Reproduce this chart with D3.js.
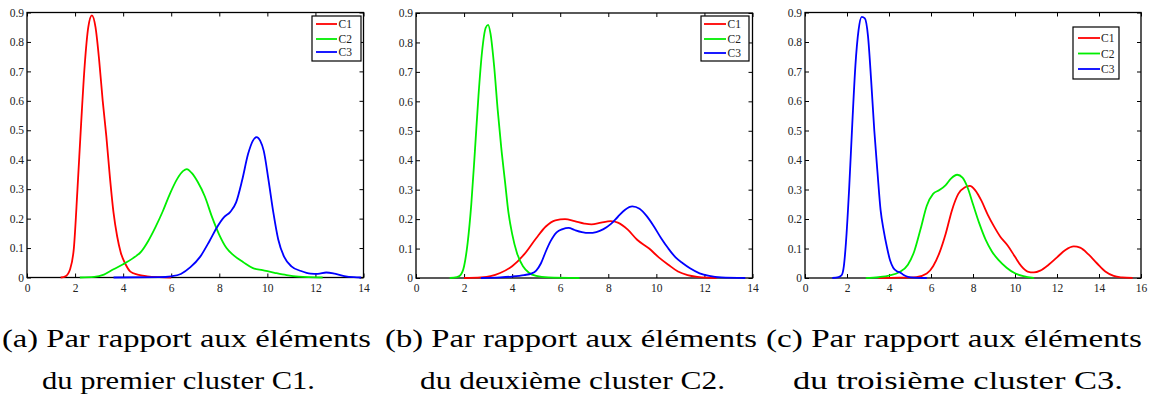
<!DOCTYPE html>
<html>
<head>
<meta charset="utf-8">
<script src="https://cdn.jsdelivr.net/npm/d3@7"></script>
<style>
  html, body { margin: 0; padding: 0; background: #fff; }
  svg { display: block; }
</style>
</head>
<body>
<script>
// ---------------- DATA ----------------
const seriesNames = ["C1", "C2", "C3"];
const yTicks = [0, 0.1, 0.2, 0.3, 0.4, 0.5, 0.6, 0.7, 0.8, 0.9];
const xTicksAB = [0, 2, 4, 6, 8, 10, 12, 14];
const xTicksC = [0, 2, 4, 6, 8, 10, 12, 14, 16];

// Panel (a): elements of cluster C1
const aC1 = [[1.4,0],[1.6,0.004],[1.8,0.03],[1.95,0.1],[2.1,0.3],[2.25,0.52],[2.4,0.72],[2.55,0.85],[2.7,0.89],[2.85,0.85],[3.0,0.74],[3.15,0.6],[3.3,0.48],[3.45,0.34],[3.6,0.22],[3.75,0.14],[3.9,0.085],[4.1,0.045],[4.3,0.02],[4.6,0.01],[5.0,0.004],[5.5,0.001],[6.0,0]];
const aC2 = [[2.2,0],[2.8,0.002],[3.2,0.01],[3.6,0.028],[4.0,0.045],[4.4,0.065],[4.75,0.088],[5.05,0.125],[5.35,0.172],[5.65,0.225],[5.95,0.285],[6.25,0.335],[6.5,0.362],[6.65,0.368],[6.85,0.355],[7.1,0.325],[7.4,0.275],[7.7,0.205],[8.0,0.145],[8.3,0.1],[8.6,0.075],[9.0,0.052],[9.4,0.032],[9.8,0.025],[10.3,0.016],[10.8,0.008],[11.3,0.003],[12.3,0]];
const aC3 = [[3.6,0],[5.5,0.001],[6.0,0.004],[6.4,0.012],[6.8,0.035],[7.2,0.07],[7.6,0.125],[7.9,0.17],[8.2,0.205],[8.45,0.222],[8.7,0.255],[8.95,0.33],[9.2,0.42],[9.4,0.465],[9.55,0.477],[9.7,0.465],[9.85,0.43],[10.05,0.33],[10.25,0.22],[10.45,0.13],[10.7,0.07],[11.0,0.038],[11.4,0.022],[11.8,0.013],[12.1,0.012],[12.45,0.017],[12.8,0.013],[13.2,0.005],[13.6,0.001],[13.9,0]];

// Panel (b): elements of cluster C2
const bC1 = [[2.0,0],[2.7,0.002],[3.1,0.006],[3.5,0.017],[4.0,0.04],[4.5,0.08],[5.0,0.135],[5.4,0.175],[5.8,0.196],[6.2,0.2],[6.6,0.193],[7.0,0.185],[7.3,0.182],[7.7,0.188],[8.1,0.193],[8.4,0.188],[8.8,0.165],[9.2,0.13],[9.7,0.1],[10.1,0.07],[10.5,0.045],[10.9,0.022],[11.3,0.01],[11.7,0.004],[12.1,0.001],[12.5,0]];
const bC2 = [[1.4,0],[1.7,0.003],[1.85,0.01],[2.0,0.04],[2.15,0.12],[2.3,0.25],[2.45,0.43],[2.6,0.62],[2.75,0.77],[2.9,0.85],[3.0,0.86],[3.1,0.83],[3.25,0.72],[3.4,0.57],[3.55,0.44],[3.7,0.33],[3.85,0.22],[4.0,0.15],[4.2,0.085],[4.45,0.04],[4.7,0.018],[5.0,0.007],[5.5,0.002],[6.8,0]];
const bC3 = [[2.7,0],[3.5,0.002],[4.0,0.005],[4.5,0.01],[4.8,0.015],[5.0,0.025],[5.2,0.05],[5.4,0.09],[5.6,0.125],[5.85,0.155],[6.1,0.166],[6.35,0.17],[6.6,0.163],[6.9,0.156],[7.2,0.153],[7.5,0.156],[7.8,0.166],[8.1,0.183],[8.4,0.208],[8.7,0.232],[9.0,0.243],[9.3,0.235],[9.6,0.21],[9.9,0.175],[10.2,0.135],[10.5,0.1],[10.8,0.07],[11.1,0.05],[11.4,0.033],[11.8,0.016],[12.2,0.007],[12.7,0.002],[13.7,0]];

// Panel (c): elements of cluster C3
const cC1 = [[3.5,0],[4.5,0.001],[5.3,0.003],[5.8,0.015],[6.1,0.04],[6.4,0.085],[6.7,0.15],[7.0,0.23],[7.3,0.285],[7.6,0.307],[7.85,0.312],[8.1,0.298],[8.4,0.262],[8.7,0.215],[9.0,0.175],[9.3,0.14],[9.65,0.11],[10.0,0.072],[10.3,0.04],[10.6,0.022],[10.9,0.019],[11.2,0.025],[11.6,0.045],[12.0,0.07],[12.4,0.095],[12.8,0.107],[13.1,0.103],[13.5,0.08],[13.9,0.05],[14.3,0.022],[14.7,0.007],[15.1,0.002],[15.6,0]];
const cC2 = [[2.9,0],[3.5,0.003],[4.0,0.008],[4.5,0.02],[4.9,0.045],[5.2,0.09],[5.5,0.165],[5.8,0.245],[6.1,0.285],[6.4,0.298],[6.7,0.315],[6.95,0.337],[7.25,0.35],[7.5,0.34],[7.75,0.305],[8.0,0.25],[8.3,0.185],[8.6,0.13],[8.9,0.09],[9.2,0.062],[9.6,0.035],[10.0,0.016],[10.4,0.006],[10.9,0]];
const cC3 = [[1.3,0],[1.6,0.003],[1.75,0.01],[1.85,0.04],[1.95,0.12],[2.1,0.3],[2.25,0.52],[2.4,0.72],[2.55,0.84],[2.7,0.885],[2.85,0.88],[3.0,0.82],[3.15,0.67],[3.3,0.5],[3.45,0.36],[3.6,0.23],[3.75,0.16],[3.9,0.105],[4.05,0.06],[4.2,0.035],[4.4,0.022],[4.55,0.018],[4.7,0.01],[4.9,0.004],[5.2,0.001],[5.8,0]];

const captionLine1 = ["(a) Par rapport aux éléments", "(b) Par rapport aux éléments", "(c) Par rapport aux éléments"];
const captionLine2 = ["du premier cluster C1.", "du deuxième cluster C2.", "du troisième cluster C3."];

// ---------------- LAYOUT ----------------
const FONT = "Liberation Serif";
const colors = { C1: "#ff0000", C2: "#00ee00", C3: "#0000ff" };
const panels = [
  { left: 27,  right: 363.5, top: 12.5, bottom: 277.5, xMax: 14, xTicks: xTicksAB, series: [aC1, aC2, aC3],
    legend: { x: 312, y: 16, w: 49, h: 45, rowY: [24, 39, 52], lx1: 316, lx2: 337, tx: 338.5 },
    cap: { x1: 2, w1: 369, x2: 42, w2: 273 } },
  { left: 416, right: 752.5, top: 13, bottom: 278, xMax: 14, xTicks: xTicksAB, series: [bC1, bC2, bC3],
    legend: { x: 701, y: 16, w: 48, h: 45, rowY: [24, 39, 53], lx1: 704, lx2: 726, tx: 727.5 },
    cap: { x1: 385, w1: 372, x2: 420, w2: 305 } },
  { left: 805, right: 1141, top: 12.5, bottom: 278, xMax: 16, xTicks: xTicksC, series: [cC1, cC2, cC3],
    legend: { x: 1073, y: 27, w: 46, h: 52, rowY: [38, 53.5, 69], lx1: 1078, lx2: 1100, tx: 1101 },
    cap: { x1: 766, w1: 376, x2: 793, w2: 330 } }
];

const svg = d3.select("body").append("svg")
  .attr("width", 1154).attr("height", 401);

const fmtY = d => d === 0 ? "0" : d3.format(".1f")(d);

panels.forEach((p, pi) => {
  const x = d3.scaleLinear().domain([0, p.xMax]).range([p.left, p.right]);
  const y = d3.scaleLinear().domain([0, 0.9]).range([p.bottom, p.top]);
  const g = svg.append("g");

  const axB = g.append("g").attr("transform", `translate(0,${p.bottom})`)
    .call(d3.axisBottom(x).tickValues(p.xTicks).tickFormat(d3.format("d")).tickSize(-4).tickSizeOuter(0).tickPadding(6));
  const axT = g.append("g").attr("transform", `translate(0,${p.top})`)
    .call(d3.axisTop(x).tickValues(p.xTicks).tickFormat("").tickSize(-4).tickSizeOuter(0));
  const axL = g.append("g").attr("transform", `translate(${p.left},0)`)
    .call(d3.axisLeft(y).tickValues(yTicks).tickFormat(fmtY).tickSize(-4).tickSizeOuter(0).tickPadding(3));
  const axR = g.append("g").attr("transform", `translate(${p.right},0)`)
    .call(d3.axisRight(y).tickValues(yTicks).tickFormat("").tickSize(-4).tickSizeOuter(0));
  [axB, axT, axL, axR].forEach(a => {
    a.attr("font-family", FONT).attr("font-size", 11.5);
    a.select(".domain").remove();
    a.selectAll(".tick line").attr("stroke", "#000").attr("stroke-width", 1);
    a.selectAll(".tick text").attr("fill", "#222").attr("font-family", FONT).attr("font-size", 11.5);
  });

  g.append("rect")
    .attr("x", p.left).attr("y", p.top)
    .attr("width", p.right - p.left).attr("height", p.bottom - p.top)
    .attr("fill", "none").attr("stroke", "#000").attr("stroke-width", 1.3);

  const line = d3.line().x(d => x(d[0])).y(d => y(d[1])).curve(d3.curveMonotoneX);
  p.series.forEach((s, si) => {
    g.append("path").datum(s)
      .attr("d", line)
      .attr("fill", "none")
      .attr("stroke", colors[seriesNames[si]])
      .attr("stroke-width", 1.8)
      .attr("stroke-linejoin", "round");
  });

  const L = p.legend;
  g.append("rect").attr("x", L.x).attr("y", L.y).attr("width", L.w).attr("height", L.h)
    .attr("fill", "#fff").attr("stroke", "#000").attr("stroke-width", 1.2);
  seriesNames.forEach((n, i) => {
    g.append("line").attr("x1", L.lx1).attr("x2", L.lx2).attr("y1", L.rowY[i]).attr("y2", L.rowY[i])
      .attr("stroke", colors[n]).attr("stroke-width", 1.8);
    g.append("text").attr("x", L.tx).attr("y", L.rowY[i]).attr("dy", "0.35em")
      .attr("font-family", FONT).attr("font-size", 11.5)
      .attr("fill", "#222").text(n);
  });

  svg.append("text").attr("x", p.cap.x1).attr("y", 347)
    .attr("textLength", p.cap.w1).attr("lengthAdjust", "spacingAndGlyphs")
    .attr("font-family", FONT).attr("font-size", 26).attr("fill", "#000").text(captionLine1[pi]);
  svg.append("text").attr("x", p.cap.x2).attr("y", 389)
    .attr("textLength", p.cap.w2).attr("lengthAdjust", "spacingAndGlyphs")
    .attr("font-family", FONT).attr("font-size", 26).attr("fill", "#000").text(captionLine2[pi]);
});
</script>
</body>
</html>
